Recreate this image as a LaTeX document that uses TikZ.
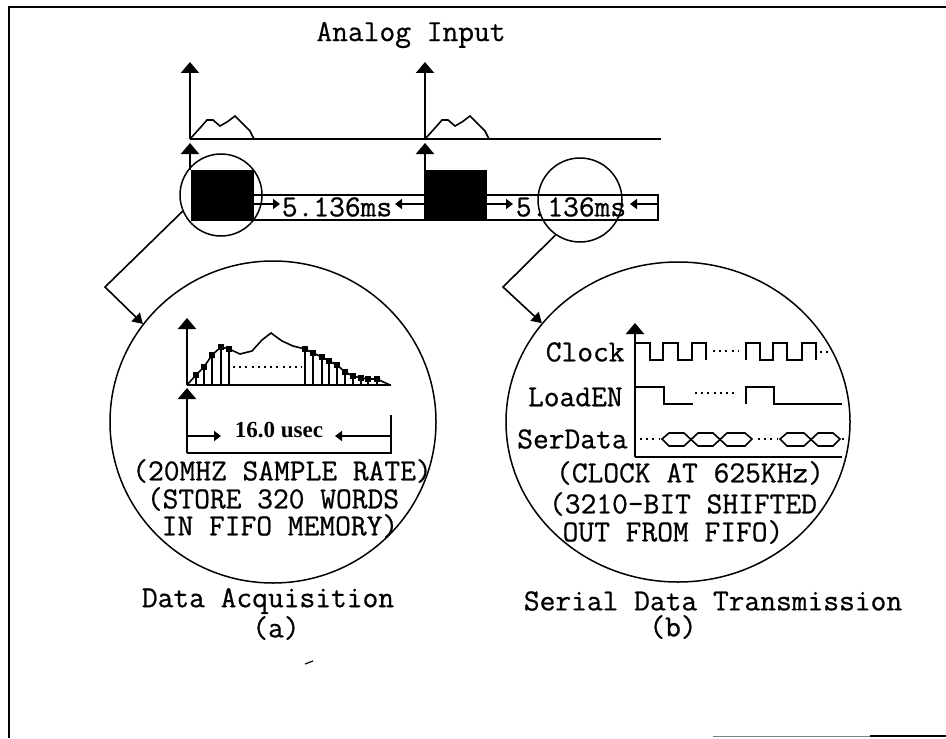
\documentclass[tikz,border=0pt]{standalone}
\usepackage{fontspec}
\newfontfamily\usecfont{Liberation Serif}
\setmonofont{Latin Modern Mono}[FakeBold=0.7]
\usetikzlibrary{arrows.meta,shapes.geometric}
\tikzset{
  label/.style={font=\fontsize{15.3}{18}\selectfont\ttfamily,inner sep=0pt},
  axis/.style={line width=1.1pt,-{Triangle[width=9pt,length=5.5pt]}},
  tick/.style={line width=0.9pt,-{Triangle[width=5pt,length=3.5pt]}},
  wave/.style={line width=1pt},
  lens/.style={draw,circle,line width=0.75pt,inner sep=0pt},
  biglens/.style={draw,ellipse,line width=0.75pt,inner sep=0pt},
  dots/.style={line width=0.8pt,dash pattern=on 1pt off 2.1pt},
}
\begin{document}
\begin{tikzpicture}[x=0.5pt,y=-0.5pt]
\useasboundingbox (0,0) rectangle (946,738);
% frame
\draw [line width=1.2pt] (9,738) -- (9,7) -- (946,7);
\draw [line width=0.5pt, gray] (713,736) -- (870,736);
\draw [line width=1pt] (870,736) -- (946,736);
\draw [line width=0.6pt] (305,664) -- (313,661);

\node [label] (title) at (411,35) {Analog Input};

% analog input with its two pulses
\draw [wave] (190,139) -- (661,139);
\foreach \ox in {190,425} {
  \draw [axis] (\ox,139) -- (\ox,62);
  \draw [axis] (\ox,170) -- (\ox,143);
  \draw [line width=0.8pt] (\ox,139) -- +(10,-11) -- +(17,-19) -- +(23,-19) -- +(30,-13) -- +(37,-17) -- +(45,-23) -- +(53,-15) -- +(60,-8) -- +(64,0);
}

% timing band
\draw [line width=1.4pt] (254,195) -- (424,195) (487,195) -- (658,195) -- (658,220) -- (487,220) (254,220) -- (424,220);
\node [lens, minimum size=82pt*0.5] (lensA) at (221,195) {};
\node [lens, minimum size=84pt*0.5] (lensB) at (580,200) {};
\fill (191,170) rectangle (254,221);
\fill (424,170) rectangle (487,221);
\node [label] (gapA) at (337,207) {5.136ms};
\node [label] (gapB) at (571,207) {5.136ms};
\draw [tick] (254,204) -- (280,204);
\draw [tick] (424,204) -- (395,204);
\draw [tick] (487,204) -- (513,204);
\draw [tick] (658,204) -- (630,204);

% close-up circles
\node [biglens, minimum width=163pt, minimum height=161pt] (bigA) at (273,422) {};
\node [biglens, minimum width=172pt, minimum height=160pt] (bigB) at (678,422) {};
\coordinate (bendA) at (105,287);
\coordinate (bendB) at (503,287);
\draw [line width=0.8pt, -{Triangle[width=6pt,length=5pt]}] (lensA.203) -- (bendA) -- (bigA.143);
\draw [line width=0.8pt, -{Triangle[width=6pt,length=5pt]}] (lensB.235) -- (bendB) -- (bigB.144);

% data acquisition
\draw [axis] (187,385) -- (187,318);
\draw [axis] (187,453) -- (187,388);
\draw [line width=1pt] (187,385) -- (391,385);
\draw [line width=1pt] (187,453) -- (391,453) -- (391,415);
\draw [tick] (187,436) -- (221,436);
\draw [tick] (391,436) -- (335,436);
\draw [line width=0.8pt] (187,385) -- (196,375) -- (204,367) -- (212,355) -- (221,347) -- (229,349) -- (240,354) -- (252,351) -- (262,340) -- (271,333) -- (282,341) -- (293,346) -- (305,349) -- (313,353) -- (322,357) -- (329,361) -- (337,365) -- (345,372) -- (353,376) -- (361,378) -- (368,379) -- (377,379) -- (390,385);
\foreach \sx/\sy in {196/375,204/367,212/355,221/347,229/349,305/349,313/353,322/357,329/361,337/365,345/372,353/376,361/378,368/379,377/379} {
  \draw [line width=0.9pt] (\sx,385) -- (\sx,\sy);
  \fill (\sx-3,\sy-3) rectangle (\sx+3,\sy+3);
}
\draw [dots] (233,367) -- (302,367);
\node [inner sep=0pt, font=\fontsize{11.5}{14}\selectfont\usecfont\bfseries] (usec) at (279,430) {16.0 usec};
\node [label] (rate) at (282,471) {(20MHZ SAMPLE RATE)};
\node [label] (store) at (273,499) {(STORE 320 WORDS};
\node [label] (fifo) at (280,526) {IN FIFO MEMORY)};
\node [label] (capA) at (268,601) {Data Acquisition};
\node [label] (subA) at (276,628) {(a)};

% serial data transmission
\draw [axis] (635,457) -- (635,323);
\draw [line width=1pt] (635,457) -- (842,457);
\node [label, anchor=east] (clock) at (625,352) {Clock};
\node [label, anchor=east] (loaden) at (623,397) {LoadEN};
\node [label, anchor=east] (serdata) at (628,439) {SerData};
\draw [wave] (635,343) -- (650,343) -- (650,360) -- (663,360) -- (663,343) -- (678,343) -- (678,360) -- (692,360) -- (692,343) -- (706,343) -- (706,360);
\draw [wave] (746,360) -- (746,343) -- (760,343) -- (760,360) -- (773,360) -- (773,343) -- (787,343) -- (787,360) -- (802,360) -- (802,343) -- (816,343) -- (816,360);
\draw [dots] (713,351) -- (738,351);
\draw [dots] (820,352) -- (832,352);
\draw [wave] (635,387) -- (664,387) -- (664,404) -- (693,404);
\draw [wave] (746,404) -- (746,387) -- (774,387) -- (774,404) -- (842,404);
\draw [dots] (695,393) -- (737,393);
\draw [dots] (640,439) -- (660,439);
\draw [line width=0.8pt] (662,439) -- (669,433) -- (684,433) -- (698,446) -- (713,446) -- (727,433) -- (745,433) -- (752,439) -- (745,446) -- (727,446) -- (713,433) -- (698,433) -- (684,446) -- (669,446) -- cycle;
\draw [dots] (758,439) -- (778,439);
\draw [line width=0.8pt] (780,439) -- (787,433) -- (804,433) -- (818,446) -- (833,446) -- (840,439) -- (833,433) -- (818,433) -- (804,446) -- (787,446) -- cycle;
\draw [dots] (842,439) -- (848,439);
\node [label] (speed) at (690,473) {(CLOCK AT 625KHz)};
\node [label] (bits) at (683,504) {(3210-BIT SHIFTED};
\node [label] (out) at (673,532) {OUT FROM FIFO)};
\node [label] (capB) at (713,601) {Serial Data Transmission};
\node [label] (subB) at (673,627) {(b)};
\end{tikzpicture}
\end{document}
